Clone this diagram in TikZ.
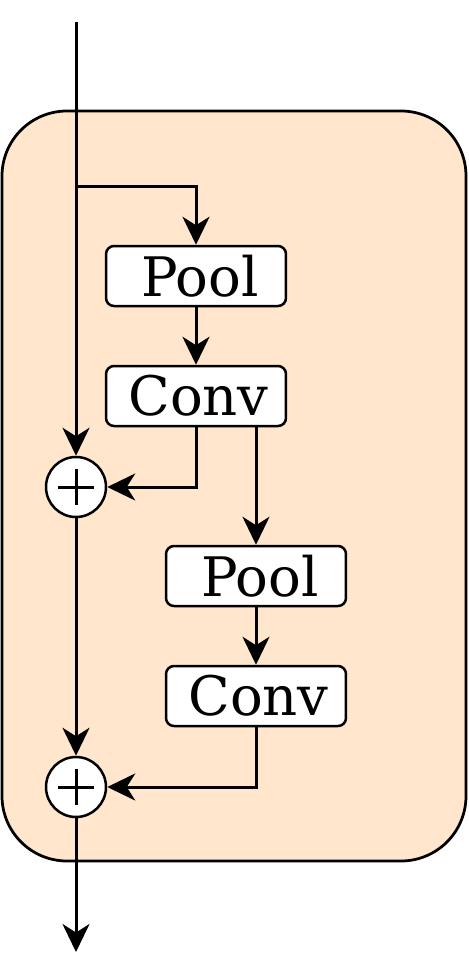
\documentclass[tikz,border=0pt]{standalone}
\usepackage{fontspec}
\setmainfont{DejaVu Serif}
\usetikzlibrary{arrows.meta}
\tikzset{
	line/.style={line width=0.06cm},
	arr/.style={line, -{Stealth[length=0.56cm, width=0.54cm, inset=0.17cm]}},
	block/.style={draw, line width=0.05cm, fill=white, rounded corners=0.16cm, minimum width=3.6cm, minimum height=1.2cm, inner sep=0pt, font=\fontsize{31}{37}\selectfont},
	plus/.style={draw, line width=0.05cm, fill=white, circle, minimum size=1.2cm, inner sep=0pt,
		path picture={\draw[line width=0.06cm] (path picture bounding box.center) +(-0.36cm,0) -- +(0.36cm,0) +(0,-0.36cm) -- +(0,0.36cm);}},
}

\begin{document}
\begin{tikzpicture}[x=0.02cm, y=-0.02cm]
		%%%%% START %%%%%
		
		\useasboundingbox (0, 0) rectangle (468, 978);
		\draw[line width=0.055cm, fill={rgb,255:red,255;green,230;blue,204}, rounded corners=1.3cm] (2, 111) rectangle (466, 861);
		
		\coordinate (in) at (76, 22);
		\coordinate (split) at (76, 186);
		\coordinate (out) at (76, 952);
		
		\node[block] (pool1) at (196, 276) {\hspace{0.15cm}Pool};
		\node[block] (conv1) at (196, 396) {\hspace{0.1cm}Conv};
		\node[block] (pool2) at (256, 576) {\hspace{0.15cm}Pool};
		\node[block] (conv2) at (256, 696) {\hspace{0.1cm}Conv};
		
		\node[plus] (add1) at (76, 487) {};
		\node[plus] (add2) at (76, 787) {};
		
		\draw[arr] (in) -- (add1.north);
		\draw[arr] (split) -| (pool1.north);
		\draw[arr] (pool1) -- (conv1);
		\draw[arr] (conv1.south) |- (add1.east);
		\draw[arr] (conv1.south -| pool2.north) -- (pool2.north);
		\draw[arr] (pool2) -- (conv2);
		\draw[arr] (conv2.south) |- (add2.east);
		\draw[arr] (add1) -- (add2);
		\draw[arr] (add2) -- (out);
		
		%%%%% END %%%%%
	\end{tikzpicture}
\end{document}
